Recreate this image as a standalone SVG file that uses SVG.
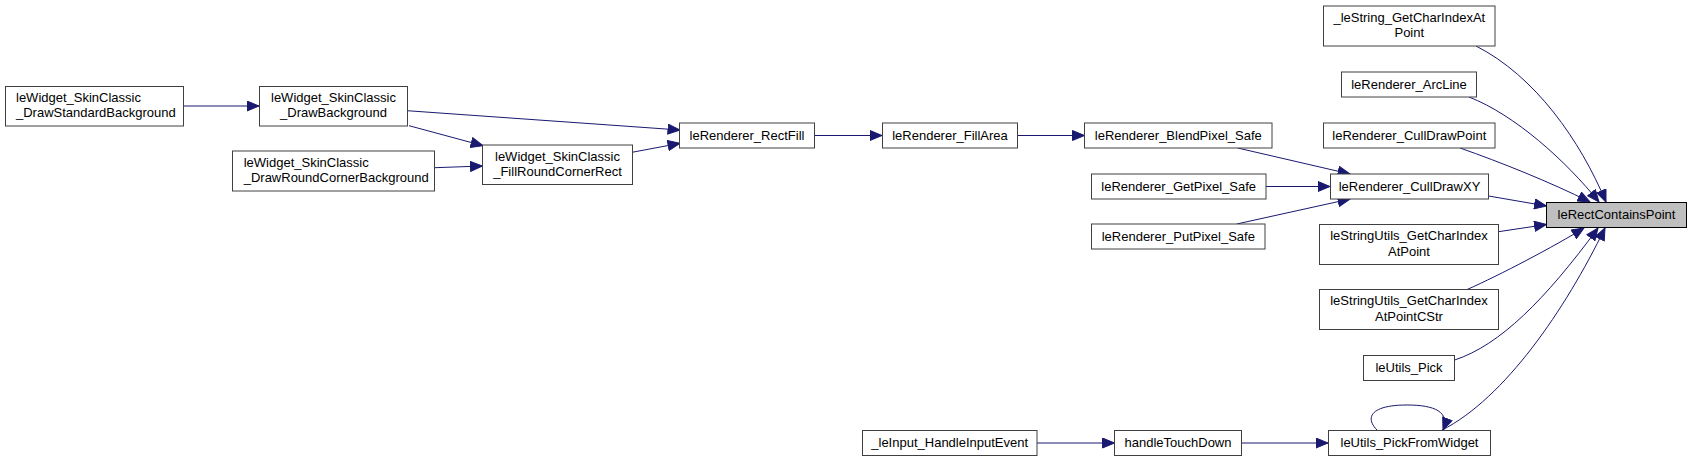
<svg xmlns="http://www.w3.org/2000/svg" width="1692" height="462" viewBox="0 0 1692 462">
<style>
.n rect{fill:#ffffff;stroke:#404040;stroke-width:1}
.root rect{fill:#bfbfbf;stroke:#000000}
text{font-family:"Liberation Sans",Arial,sans-serif;font-size:13px;fill:#000000}
.c{text-anchor:middle}
.s{text-anchor:start}
#edges path{fill:none;stroke:#191970;stroke-width:1;marker-end:url(#ah)}
</style>
<defs>
<marker id="ah" markerUnits="userSpaceOnUse" markerWidth="13" markerHeight="11" viewBox="0 0 13 11" refX="12.5" refY="5.5" orient="auto">
<path d="M0.5,0.5 L12.5,5.5 L0.5,10.5 z" fill="#191970" stroke="#191970" stroke-width="1"/>
</marker>
</defs>
<rect width="1692" height="462" fill="#ffffff"/>
<g id="edges">
<path d="M184,106 L259,106"/>
<path d="M407,110.7 L680,130"/>
<path d="M409,125.7 L483,145.7"/>
<path d="M435,167.7 L482.5,166"/>
<path d="M632,152.3 L680,143.3"/>
<path d="M815,135.5 L882,135.5"/>
<path d="M1017,135.5 L1084.5,135.5"/>
<path d="M1237.7,148 L1350,174"/>
<path d="M1266,186.5 L1330,186.5"/>
<path d="M1236.7,224 L1350,199"/>
<path d="M1488.7,196 L1546.5,206"/>
<path d="M1476,46 C1535,76 1580,140 1606,202"/>
<path d="M1469,97 C1515,115 1565,160 1599,202"/>
<path d="M1460,148 C1500,162 1550,182 1590,202"/>
<path d="M1498.5,231.7 L1546.5,224.5"/>
<path d="M1466.7,289.7 C1500,275 1555,246 1584,228"/>
<path d="M1454.7,360 C1500,345 1545,300 1598,228"/>
<path d="M1441.7,430.3 C1505,398 1565,310 1605,228"/>
<path d="M1377,430 C1365,418 1370,405 1407,405 C1435,405 1450,412 1443,430"/>
<path d="M1037,443 L1114.5,443"/>
<path d="M1242,443 L1328,443"/>
</g>
<g id="n_drawstd" class="n"><rect x="5.5" y="86.5" width="178" height="39.5"/><text class="s" x="16" y="101.8">leWidget_SkinClassic</text><text class="s" x="16" y="117.3">_DrawStandardBackground</text></g>
<g id="n_drawbg" class="n"><rect x="259.5" y="86.5" width="148" height="39.5"/><text class="c" x="333.5" y="101.8">leWidget_SkinClassic</text><text class="c" x="333.5" y="117.3">_DrawBackground</text></g>
<g id="n_drawround" class="n"><rect x="232.5" y="151" width="202" height="40"/><text class="s" x="243.7" y="166.5">leWidget_SkinClassic</text><text class="s" x="243.7" y="182">_DrawRoundCornerBackground</text></g>
<g id="n_fillround" class="n"><rect x="482.5" y="145" width="150" height="39.5"/><text class="c" x="557.5" y="160.5">leWidget_SkinClassic</text><text class="c" x="557.5" y="176">_FillRoundCornerRect</text></g>
<g id="n_rectfill" class="n"><rect x="679.5" y="123" width="135" height="25"/><text class="c" x="747" y="139.5">leRenderer_RectFill</text></g>
<g id="n_fillarea" class="n"><rect x="882.5" y="123" width="135" height="25"/><text class="c" x="950" y="139.5">leRenderer_FillArea</text></g>
<g id="n_blend" class="n"><rect x="1084.5" y="123" width="187.5" height="25"/><text class="c" x="1178.3" y="139.5">leRenderer_BlendPixel_Safe</text></g>
<g id="n_getpixel" class="n"><rect x="1091.5" y="174" width="174.5" height="25"/><text class="c" x="1178.7" y="190.5">leRenderer_GetPixel_Safe</text></g>
<g id="n_putpixel" class="n"><rect x="1091.5" y="224" width="173.5" height="25"/><text class="c" x="1178.3" y="240.5">leRenderer_PutPixel_Safe</text></g>
<g id="n_cullxy" class="n"><rect x="1330.5" y="174" width="158" height="25"/><text class="c" x="1409.5" y="190.5">leRenderer_CullDrawXY</text></g>
<g id="n_lestring" class="n"><rect x="1323.5" y="6" width="171.5" height="40"/><text class="c" x="1409.3" y="21.5">_leString_GetCharIndexAt</text><text class="c" x="1409.3" y="37">Point</text></g>
<g id="n_arcline" class="n"><rect x="1341.5" y="72" width="135" height="25"/><text class="c" x="1409" y="88.5">leRenderer_ArcLine</text></g>
<g id="n_cullpoint" class="n"><rect x="1323.5" y="123" width="171.5" height="25"/><text class="c" x="1409.3" y="139.5">leRenderer_CullDrawPoint</text></g>
<g id="n_rcp" class="n root"><rect x="1546.5" y="202.5" width="140" height="25"/><text class="c" x="1616.5" y="219">leRectContainsPoint</text></g>
<g id="n_getcharidx" class="n"><rect x="1319.5" y="224.5" width="179" height="40"/><text class="c" x="1409" y="240">leStringUtils_GetCharIndex</text><text class="c" x="1409" y="255.5">AtPoint</text></g>
<g id="n_cstr" class="n"><rect x="1319.5" y="289.5" width="179" height="40"/><text class="c" x="1409" y="305">leStringUtils_GetCharIndex</text><text class="c" x="1409" y="320.5">AtPointCStr</text></g>
<g id="n_pick" class="n"><rect x="1363.5" y="355.5" width="91" height="25"/><text class="c" x="1409" y="372">leUtils_Pick</text></g>
<g id="n_pickwidget" class="n"><rect x="1328.5" y="430.5" width="162" height="25"/><text class="c" x="1409.5" y="447">leUtils_PickFromWidget</text></g>
<g id="n_touch" class="n"><rect x="1114.5" y="430.5" width="127" height="25"/><text class="c" x="1178" y="447">handleTouchDown</text></g>
<g id="n_input" class="n"><rect x="862.5" y="430.5" width="174.5" height="25"/><text class="c" x="949.7" y="447">_leInput_HandleInputEvent</text></g>
</svg>
